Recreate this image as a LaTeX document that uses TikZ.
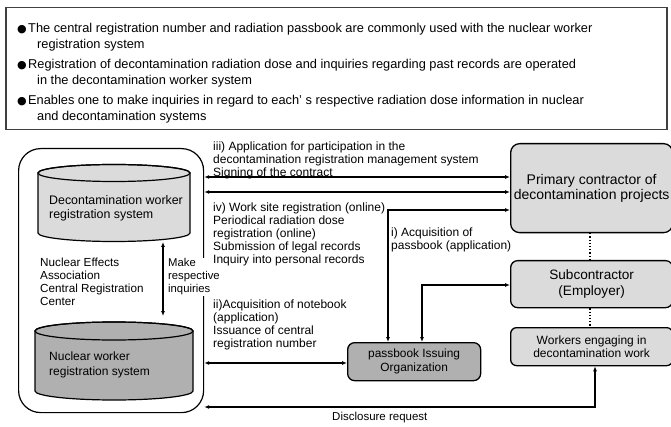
\documentclass[tikz,border=0pt]{standalone}
\usepackage{fontspec}
\setmainfont{Liberation Sans}
\newfontfamily\dejavu{DejaVu Sans}
\usetikzlibrary{arrows.meta}
\definecolor{lightfill}{gray}{0.86}
\definecolor{darkfill}{gray}{0.69}
\definecolor{framegray}{gray}{0.25}
\tikzset{
  bul/.style={anchor=west, inner sep=0pt, align=left, font=\fontsize{12.8}{16}\selectfont},
  lbl/.style={anchor=west, inner sep=0pt, align=left, font=\fontsize{12}{13}\selectfont},
  boxtxt/.style={inner sep=0pt, align=center, font=\fontsize{12.4}{14}\selectfont},
  rbox/.style={draw, line width=1.3pt, rounded corners=9pt, fill=lightfill, anchor=north west},
  conn/.style={line width=1.3pt, {Latex[length=5pt,width=4pt]}-{Latex[length=5pt,width=4pt]}},
  cyl/.style={draw, line width=1.2pt},
}
\begin{document}
\begin{tikzpicture}[x=1pt, y=-1pt]
\useasboundingbox (0,0) rectangle (671,427);
% top frame
\node[draw=framegray, line width=1.5pt, minimum width=661pt, minimum height=122pt, anchor=north west, inner sep=0pt] (frame) at (5,7) {};
\node[bul] (b1) at (17,37) {\makebox[11pt][l]{\dejavu\fontsize{11}{11}\selectfont ●}The central registration number and radiation passbook are commonly used with the nuclear worker\\\hspace*{20pt}registration system};
\node[bul] (b2) at (17,73) {\makebox[11pt][l]{\dejavu\fontsize{11}{11}\selectfont ●}Registration of decontamination radiation dose and inquiries regarding past records are operated\\\hspace*{20pt}in the decontamination worker system};
\node[bul] (b3) at (17,109) {\makebox[11pt][l]{\dejavu\fontsize{11}{11}\selectfont ●}Enables one to make inquiries in regard to each’ s respective radiation dose information in nuclear\\\hspace*{20pt}and decontamination systems};

% big rounded rectangle
\node[draw, line width=1.2pt, rounded corners=22pt, minimum width=185pt, minimum height=264pt, anchor=north west, inner sep=0pt] (big) at (18,148) {};

% decontamination cylinder
\filldraw[cyl, fill=lightfill] (38,173) -- (38,233) arc[start angle=180, end angle=360, x radius=76pt, y radius=8.5pt] -- (190,173) arc[start angle=0, end angle=180, x radius=76pt, y radius=8.5pt] -- cycle;
\draw[cyl] (114,173) ellipse[x radius=76pt, y radius=8.5pt];
\node[boxtxt, anchor=west, align=left] (decon) at (49,208) {Decontamination worker\\registration system};

% nuclear cylinder
\filldraw[cyl, fill=darkfill] (35,331) -- (35,391) arc[start angle=180, end angle=360, x radius=79pt, y radius=9pt] -- (193,331) arc[start angle=0, end angle=180, x radius=79pt, y radius=9pt] -- cycle;
\draw[cyl] (114,331) ellipse[x radius=79pt, y radius=9pt];
\node[boxtxt, anchor=west, align=left, font=\fontsize{12}{14.5}\selectfont] (nuc) at (49,365) {Nuclear worker\\registration system};

\node[lbl, font=\fontsize{11.7}{13}\selectfont] (nea) at (40,282) {Nuclear Effects\\Association\\Central Registration\\Center};

% inquiries arrow
\coordinate (qt) at (163,242);
\coordinate (qb) at (163,316);
\draw[conn] (qt) -- (qb);
\node[lbl, fill=white, inner sep=1pt, font=\fontsize{11.3}{13}\selectfont] (inq) at (167,277) {Make\\respective\\inquiries};

% right boxes
\node[rbox, minimum width=162pt, minimum height=89pt] (prim) at (510,143) {};
\node[boxtxt, font=\fontsize{14}{15.5}\selectfont] at (prim.center) {Primary contractor of\\decontamination projects};
\node[rbox, rounded corners=7pt, minimum width=162pt, minimum height=47pt] (sub) at (510,260) {};
\node[boxtxt, font=\fontsize{13.6}{16}\selectfont] at (sub.center) {Subcontractor\\(Employer)};
\node[rbox, rounded corners=6pt, minimum width=162pt, minimum height=38pt] (work) at (510,327) {};
\node[boxtxt, font=\fontsize{12}{13.5}\selectfont] at (work.center) {Workers engaging in\\decontamination work};
\draw[line width=1.2pt, dotted] (prim.south -| 590,0) -- (sub.north -| 590,0);
\draw[line width=1.2pt, dotted] (sub.south -| 590,0) -- (work.north -| 590,0);

% passbook organization
\node[rbox, rounded corners=7pt, fill=darkfill, minimum width=133pt, minimum height=38pt] (pb) at (347,342) {};
\node[boxtxt, font=\fontsize{11.9}{13.5}\selectfont] at (pb.center) {passbook Issuing\\Organization};

% connectors to primary contractor
\coordinate (y1) at (0,177);
\coordinate (y2) at (0,192);
\draw[conn] (big.east |- y1) -- (prim.west |- y1);
\draw[conn] (big.east |- y2) -- (prim.west |- y2);
\node[lbl] (iii) at (213,160) {iii) Application for participation in the\\decontamination registration management system\\Signing of the contract};
\node[lbl] (iv) at (213,234) {iv) Work site registration (online)\\Periodical radiation dose\\registration (online)\\Submission of legal records\\Inquiry into personal records};

% i) passbook acquisition
\coordinate (ci) at (388,210);
\draw[conn] (pb.north -| ci) -- (ci) -- (prim.west |- ci);
\node[lbl] (il) at (391,240) {i) Acquisition of\\passbook (application)};

% subcontractor to passbook
\coordinate (cs) at (422,285);
\draw[conn] (pb.north -| cs) -- (cs) -- (sub.west |- cs);

% ii)
\coordinate (y3) at (0,363);
\draw[conn] (big.east |- y3) -- (pb.west |- y3);
\node[lbl] (ii) at (213,325) {ii)Acquisition of notebook\\(application)\\Issuance of central\\registration number};

% disclosure request
\coordinate (cd) at (595,407);
\draw[conn] (big.east |- cd) -- (cd) -- (work.south -| cd);
\node[lbl, font=\fontsize{11.5}{13}\selectfont] (disc) at (332,418) {Disclosure request};
\end{tikzpicture}
\end{document}
